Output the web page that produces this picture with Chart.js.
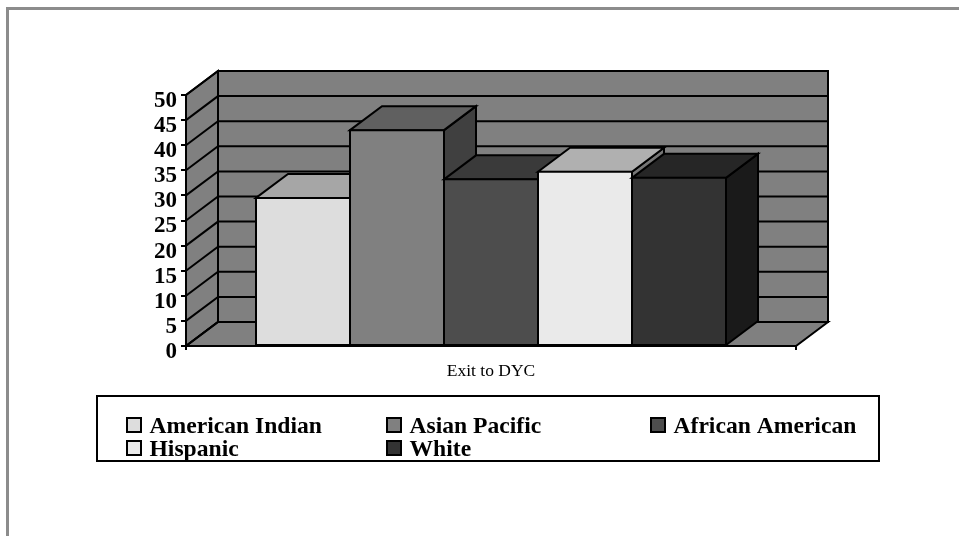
<!DOCTYPE html>
<html>
<head>
<meta charset="utf-8">
<title>Exit to DYC</title>
<script src="https://cdn.jsdelivr.net/npm/chart.js@4"></script>
<style>
  html, body { margin:0; background:#fff; }
  #wrap { position:relative; width:959px; height:536px; overflow:hidden; }
  #frame { position:absolute; left:6px; top:7px; right:-4px; bottom:-4px; border:solid #8c8c8c; border-width:3px 0 0 3px; }
  canvas { position:absolute; left:0; top:0; }
</style>
</head>
<body>
<div id="wrap">
  <div id="frame"></div>
  <canvas id="chart" width="959" height="536"></canvas>
</div>
<script>
const categories = ["Exit to DYC"];
const groups = ["American Indian", "Asian Pacific", "African American", "Hispanic", "White"];
const values = [29.5, 43, 33.2, 34.7, 33.5];
const fills = ["#dddddd", "#808080", "#4d4d4d", "#eaeaea", "#333333"];

const SERIF = "'Liberation Serif', 'Times New Roman', serif";
const DX = 32, DY = 24;   // how far the walls and bars recede

function shade(hex, f){
  const n = parseInt(hex.slice(1), 16);
  const c = [n>>16 & 255, n>>8 & 255, n & 255].map(v => Math.round(v*f));
  return `rgb(${c.join(",")})`;
}

function poly(ctx, pts, fill){
  ctx.beginPath();
  pts.forEach((p,i) => i ? ctx.lineTo(p[0],p[1]) : ctx.moveTo(p[0],p[1]));
  ctx.closePath();
  if(fill){ ctx.fillStyle = fill; ctx.fill(); }
  ctx.stroke();
}

// back wall, side wall, floor and their gridlines, then the boxes from left to right
const box3d = {
  id:"box3d",
  beforeDatasetsDraw(chart){
    const {ctx, chartArea:a, scales:{y}} = chart;
    ctx.save();
    ctx.strokeStyle = "#000";
    ctx.lineWidth = 2;
    ctx.lineJoin = "miter";
    const wall = "#808080";
    poly(ctx, [[a.left+DX,a.top-DY],[a.right+DX,a.top-DY],[a.right+DX,a.bottom-DY],[a.left+DX,a.bottom-DY]], wall);
    poly(ctx, [[a.left,a.top],[a.left+DX,a.top-DY],[a.left+DX,a.bottom-DY],[a.left,a.bottom]], wall);
    poly(ctx, [[a.left,a.bottom],[a.left+DX,a.bottom-DY],[a.right+DX,a.bottom-DY],[a.right,a.bottom]], wall);
    y.ticks.forEach(t => {
      const py = y.getPixelForValue(t.value);
      ctx.beginPath();
      ctx.moveTo(a.left, py);
      ctx.lineTo(a.left+DX, py-DY);
      ctx.lineTo(a.right+DX, py-DY);
      ctx.stroke();
    });
    chart.getSortedVisibleDatasetMetas().forEach(meta => {
      const bar = meta.data[0];
      const {x, y:top, base, width} = bar.getProps(["x","y","base","width"]);
      const l = x-width/2, r = x+width/2;
      const color = chart.data.datasets[meta.index].backgroundColor;
      poly(ctx, [[r,top],[r+DX,top-DY],[r+DX,base-DY],[r,base]], shade(color,0.5));
      poly(ctx, [[l,top],[l+DX,top-DY],[r+DX,top-DY],[r,top]], shade(color,0.75));
      meta.controller.draw();
    });
    ctx.restore();
    return false;
  }
};

// boxed legend with fixed columns
const boxLegend = {
  id:"boxLegend",
  afterDraw(chart, args, opts){
    const {ctx} = chart;
    ctx.save();
    ctx.strokeStyle = "#000";
    ctx.lineWidth = 2;
    ctx.strokeRect(opts.left, opts.top, opts.width, opts.height);
    ctx.font = `bold ${opts.size}px ${SERIF}`;
    ctx.textBaseline = "alphabetic";
    chart.data.datasets.forEach((ds,i) => {
      const col = i % opts.columns.length;
      const row = Math.floor(i / opts.columns.length);
      const x = opts.columns[col];
      const base = opts.firstBaseline + row*opts.rowGap;
      ctx.fillStyle = ds.backgroundColor;
      ctx.fillRect(x, base-15, 14, 14);
      ctx.strokeRect(x, base-15, 14, 14);
      ctx.fillStyle = "#000";
      ctx.fillText(ds.label, x+22.5, base);
    });
    ctx.restore();
  }
};

new Chart(document.getElementById("chart"), {
  type:"bar",
  data:{
    labels:categories,
    datasets:groups.map((g,i) => ({
      label:g,
      data:[values[i]],
      backgroundColor:fills[i],
      borderColor:"#000",
      borderWidth:2,
      borderSkipped:false,
      inflateAmount:1
    }))
  },
  plugins:[box3d, boxLegend],
  options:{
    responsive:false,
    animation:false,
    devicePixelRatio:1,
    layout:{ padding:{left:100, top:95, right:163, bottom:150} },
    datasets:{ bar:{ categoryPercentage:470/610, barPercentage:1 } },
    plugins:{
      legend:{display:false},
      tooltip:{enabled:false},
      boxLegend:{ left:97, top:396, width:782, height:65, columns:[127,387,651], firstBaseline:433, rowGap:23, size:23.6 }
    },
    scales:{
      x:{
        afterFit(s){ s.height = 40; },
        grid:{ offset:true, drawOnChartArea:false, color:"#000", lineWidth:2, tickLength:4 },
        border:{ color:"#000", width:2 },
        ticks:{ color:"#000", padding:11, font:{family:SERIF, size:17.5} }
      },
      y:{
        min:0, max:50,
        afterFit(s){ s.width = 86; },
        grid:{ drawOnChartArea:false, color:"#000", lineWidth:2, tickLength:5 },
        border:{ color:"#000", width:2 },
        ticks:{ stepSize:5, autoSkip:false, color:"#000", padding:4, labelOffset:6, font:{family:SERIF, size:23, weight:"bold"} }
      }
    }
  }
});
</script>
</body>
</html>
